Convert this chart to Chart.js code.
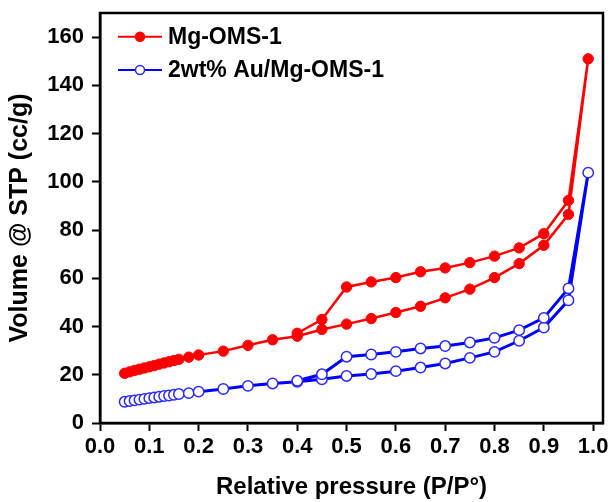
<!DOCTYPE html>
<html>
<head>
<meta charset="utf-8">
<title>N2 isotherms</title>
<script src="https://cdn.jsdelivr.net/npm/chart.js@4/dist/chart.umd.min.js"></script>
<style>
  html, body { margin: 0; padding: 0; background: #fff; }
  #wrap { width: 613px; height: 502px; }
</style>
</head>
<body>
<div id="wrap"><canvas id="c" width="613" height="502"></canvas></div>
<script>
// Relative pressure points (P/P0): adsorption branch, then desorption branch
const adsP = [0.05, 0.06, 0.07, 0.08, 0.09, 0.10, 0.11, 0.12, 0.13, 0.14, 0.15, 0.16,
              0.18, 0.20, 0.25, 0.30, 0.35, 0.40, 0.45, 0.50, 0.55, 0.60, 0.65, 0.70,
              0.75, 0.80, 0.85, 0.90, 0.95, 0.99];
const desP = [0.95, 0.90, 0.85, 0.80, 0.75, 0.70, 0.65, 0.60, 0.55, 0.50, 0.45, 0.40];

// Adsorbed volume (cc/g STP)
const mgAds = [20.6, 21.2, 21.8, 22.3, 22.8, 23.3, 23.8, 24.4, 24.9, 25.4, 25.9, 26.4,
               27.3, 28.2, 29.8, 32.2, 34.5, 36.0, 38.8, 41.0, 43.3, 45.8, 48.4, 51.9,
               55.5, 60.3, 66.1, 73.7, 86.5, 151.0];
const mgDes = [92.3, 78.5, 72.6, 69.2, 66.5, 64.3, 62.7, 60.3, 58.5, 56.4, 42.9, 37.2];

const auAds = [8.8, 9.1, 9.4, 9.7, 10.0, 10.3, 10.6, 10.9, 11.2, 11.4, 11.7, 12.0,
               12.4, 13.0, 14.1, 15.4, 16.4, 17.1, 18.1, 19.5, 20.3, 21.5, 23.0, 24.7,
               27.0, 29.5, 34.1, 39.6, 50.9, 103.8];
const auDes = [55.8, 43.6, 38.5, 35.3, 33.4, 31.9, 30.9, 29.5, 28.4, 27.5, 20.2, 17.5];

const seriesNames = ['Mg-OMS-1', '2wt% Au/Mg-OMS-1'];
const xTicks = [0.0, 0.1, 0.2, 0.3, 0.4, 0.5, 0.6, 0.7, 0.8, 0.9, 1.0];
const yTicks = [0, 20, 40, 60, 80, 100, 120, 140, 160];

const FONT = "'Liberation Sans', Arial, Helvetica, sans-serif";

function loop(ads, des) {
  return adsP.map((p, i) => ({ x: p, y: ads[i] }))
    .concat(desP.map((p, i) => ({ x: p, y: des[i] })));
}

// full frame around the plot area
const framePlugin = {
  id: 'frame',
  afterDatasetsDraw(chart) {
    const a = chart.chartArea, ctx = chart.ctx;
    ctx.save();
    ctx.strokeStyle = '#000';
    ctx.lineWidth = 2.5;
    ctx.strokeRect(a.left, a.top, a.right - a.left, a.bottom - a.top);
    ctx.restore();
  }
};

// legend inside the top-left corner: line + marker swatch, then the series name
const insideLegend = {
  id: 'insideLegend',
  afterDraw(chart) {
    const ctx = chart.ctx, a = chart.chartArea;
    const x0 = a.left + 18, lineLen = 44, rowGap = 33.3;
    ctx.save();
    chart.data.datasets.forEach((d, i) => {
      const y = a.top + 23.7 + i * rowGap;
      ctx.strokeStyle = d.borderColor;
      ctx.lineWidth = 2;
      ctx.beginPath(); ctx.moveTo(x0, y); ctx.lineTo(x0 + lineLen, y); ctx.stroke();
      ctx.beginPath(); ctx.arc(x0 + lineLen / 2, y, 4.5, 0, Math.PI * 2);
      ctx.fillStyle = d.pointBackgroundColor;
      ctx.fill();
      ctx.lineWidth = 1.5;
      ctx.strokeStyle = d.pointBorderColor;
      ctx.stroke();
      ctx.fillStyle = '#000';
      ctx.font = 'bold 23px ' + FONT;
      ctx.textBaseline = 'middle';
      ctx.textAlign = 'left';
      ctx.fillText(d.label, x0 + lineLen + 6, y + 1);
    });
    ctx.restore();
  }
};

new Chart(document.getElementById('c'), {
  type: 'line',
  data: {
    datasets: [
      {
        label: seriesNames[0],
        data: loop(mgAds, mgDes),
        borderColor: '#ff0000',
        backgroundColor: '#ff0000',
        borderWidth: 2.5,
        pointRadius: 5.2,
        pointBorderWidth: 1,
        pointBackgroundColor: '#ff0000',
        pointBorderColor: '#ff0000',
        tension: 0
      },
      {
        label: seriesNames[1],
        data: loop(auAds, auDes),
        borderColor: '#0000ff',
        backgroundColor: '#0000ff',
        borderWidth: 3,
        pointRadius: 5.2,
        pointBorderWidth: 1.5,
        pointBackgroundColor: '#ffffff',
        pointBorderColor: '#2a2aff',
        tension: 0
      }
    ]
  },
  options: {
    responsive: false,
    animation: false,
    layout: { padding: { left: 0, top: 13, right: 10, bottom: 0 } },
    plugins: {
      tooltip: { enabled: false },
      legend: { display: false }
    },
    scales: {
      x: {
        type: 'linear',
        min: 0,
        max: 1.02,
        afterFit(s) { s.height = 79; s.paddingLeft = 0; s.paddingRight = 0; },
        afterBuildTicks(s) { s.ticks = xTicks.map(v => ({ value: v })); },
        border: { display: true, color: '#000', width: 2.5 },
        grid: { display: true, drawOnChartArea: false, drawTicks: true, tickLength: 8, tickWidth: 2, tickColor: '#000' },
        ticks: {
          color: '#000',
          padding: 3,
          maxRotation: 0,
          font: { family: FONT, size: 22, weight: 'bold' },
          callback: v => v.toFixed(1)
        },
        title: {
          display: true,
          text: 'Relative pressure (P/P°)',
          color: '#000',
          font: { family: FONT, size: 24, weight: 'bold' },
          padding: { top: 0, bottom: 0 }
        }
      },
      y: {
        type: 'linear',
        min: 0,
        max: 170,
        afterFit(s) { s.width = 100; s.paddingTop = 0; s.paddingBottom = 0; },
        afterBuildTicks(s) { s.ticks = yTicks.map(v => ({ value: v })); },
        border: { display: true, color: '#000', width: 2.5 },
        grid: { display: true, drawOnChartArea: false, drawTicks: true, tickLength: 8, tickWidth: 2, tickColor: '#000' },
        ticks: {
          color: '#000',
          padding: 8,
          font: { family: FONT, size: 22, weight: 'bold' }
        },
        title: {
          display: true,
          text: 'Volume @ STP (cc/g)',
          color: '#000',
          font: { family: FONT, size: 25, weight: 'bold' },
          padding: { top: 5, bottom: 0 }
        }
      }
    }
  },
  plugins: [framePlugin, insideLegend]
});
</script>
</body>
</html>
